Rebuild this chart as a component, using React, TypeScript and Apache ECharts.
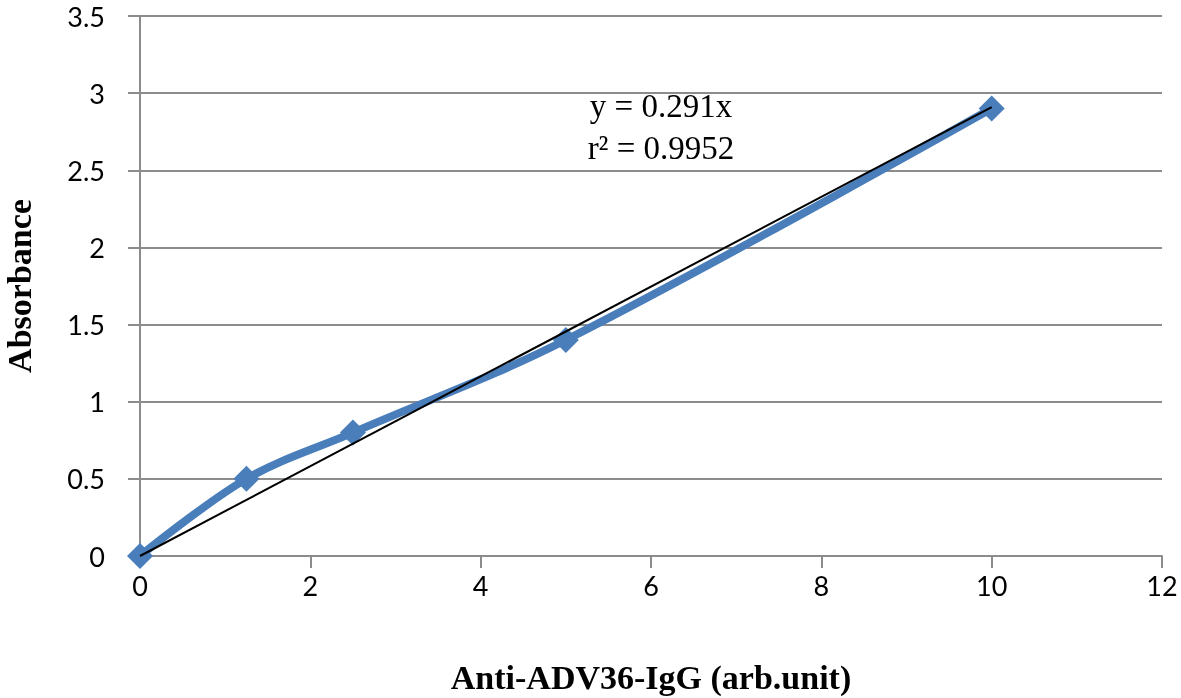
import React, { useEffect, useRef } from "react";
import * as echarts from "echarts";

const xValues = [0, 1.25, 2.5, 5, 10];
const absorbance = [0, 0.5, 0.8, 1.4, 2.9];
const slope = 0.291;
const trendX = [0, 10];
const equationText = "y = 0.291x";
const r2Text = "r² = 0.9952";

export default function App() {
  const ref = useRef<HTMLDivElement>(null);
  useEffect(() => {
    if (!ref.current) return;
    const chart = echarts.init(ref.current, null, { renderer: "svg" });
    const gray = "#8c8c8c";
    chart.setOption({
      animation: false,
      grid: { left: 140, right: 19, top: 16, bottom: 142, outerBoundsMode: "none", containLabel: false },
      xAxis: {
        type: "value",
        min: 0,
        max: 12,
        interval: 2,
        name: "Anti-ADV36-IgG (arb.unit)",
        nameLocation: "middle",
        nameGap: 104,
        nameTextStyle: { fontFamily: "Liberation Serif", fontWeight: "bold", fontSize: 34, color: "#000" },
        axisLine: { show: true, lineStyle: { color: gray, width: 2 } },
        axisTick: { show: true, length: 12, lineStyle: { color: gray, width: 2 } },
        axisLabel: { fontFamily: "Lato", fontSize: 27, color: "#000", margin: 16 },
        splitLine: { show: false },
      },
      yAxis: {
        type: "value",
        min: 0,
        max: 3.5,
        interval: 0.5,
        name: "Absorbance",
        nameLocation: "middle",
        nameGap: 104,
        nameRotate: 90,
        nameTextStyle: { fontFamily: "Liberation Serif", fontWeight: "bold", fontSize: 34, color: "#000" },
        axisLine: { show: true, lineStyle: { color: gray, width: 2 } },
        axisTick: { show: true, length: 12, lineStyle: { color: gray, width: 2 } },
        axisLabel: { fontFamily: "Lato", fontSize: 27, lineHeight: 28, color: "#000", margin: 35 },
        splitLine: { show: true, lineStyle: { color: gray, width: 2 } },
      },
      series: [
        {
          type: "line",
          data: xValues.map((x, i) => [x, absorbance[i]]),
          smooth: 0.35,
          lineStyle: { color: "#4a7ebb", width: 8 },
          itemStyle: { color: "#4a7ebb" },
          symbol: "diamond",
          symbolSize: 26,
          z: 2,
        },
        {
          type: "line",
          data: trendX.map((x) => [x, slope * x]),
          symbol: "none",
          lineStyle: { color: "#000", width: 2 },
          z: 3,
        },
      ],
      graphic: [
        {
          type: "text",
          x: 661,
          y: 85,
          style: {
            text: equationText + "\n" + r2Text,
            fontFamily: "Liberation Serif",
            fontSize: 33,
            lineHeight: 42,
            fill: "#000",
            align: "center",
          },
        },
      ],
    });
    return () => chart.dispose();
  }, []);
  return <div ref={ref} style={{ width: 1181, height: 698, position: "fixed", left: 0, top: 0 }} />;
}
